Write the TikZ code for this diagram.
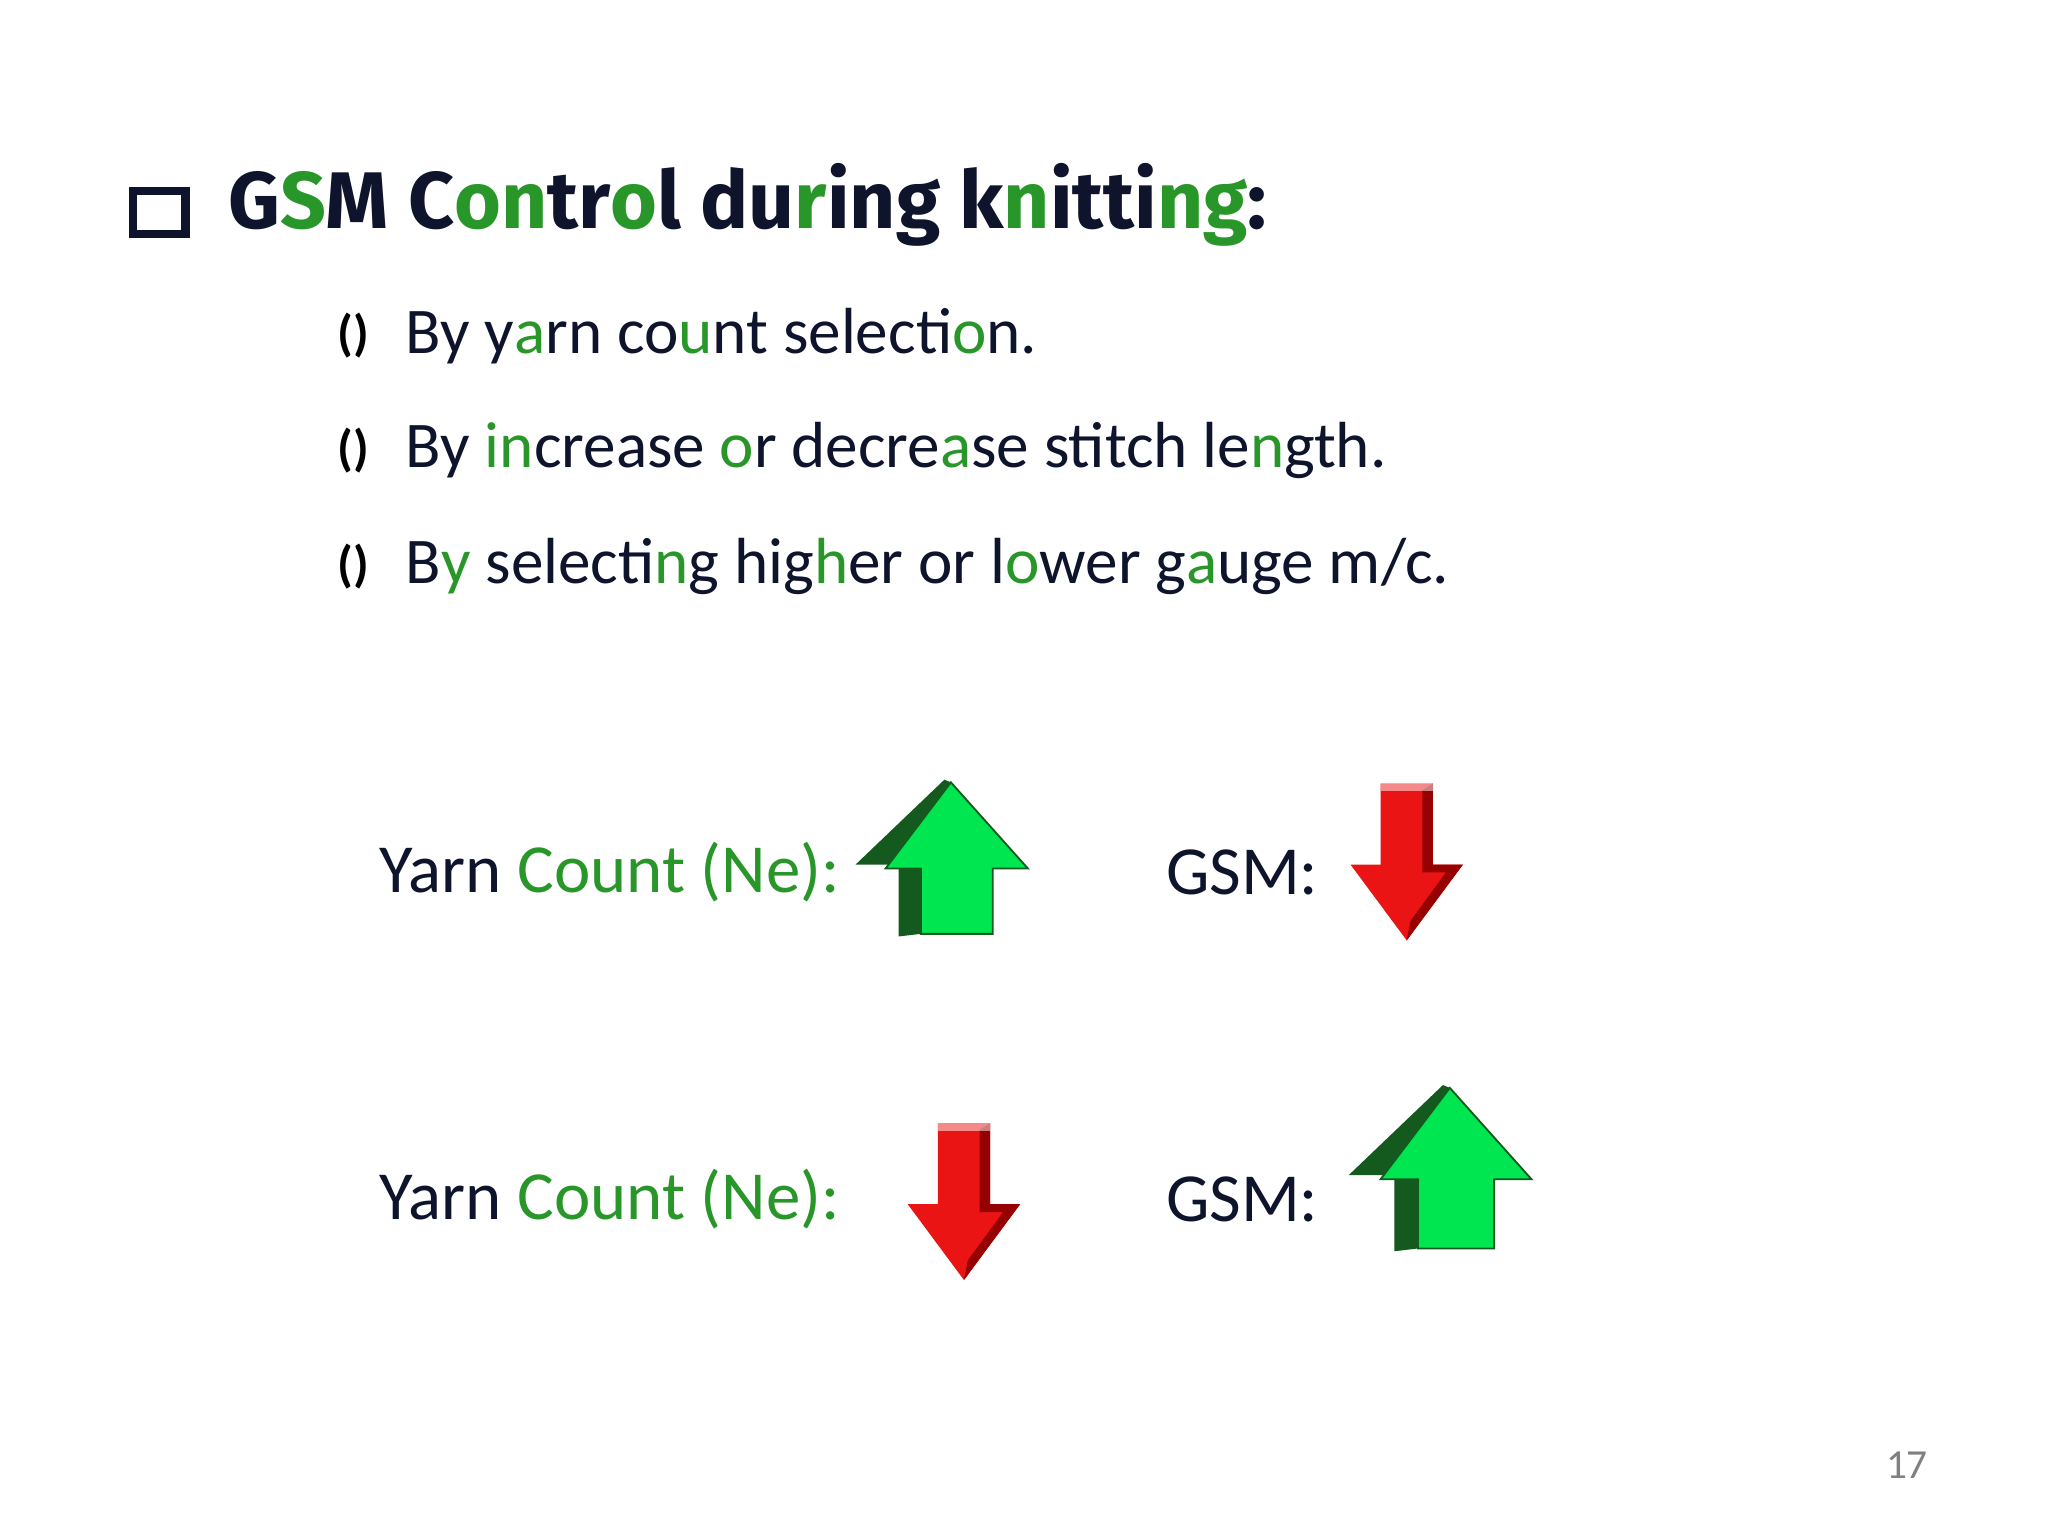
\documentclass[tikz,border=0pt]{standalone}
\usepackage{fontspec}
\setmainfont{Carlito}
\newfontfamily\ttl{Fira Sans}
\definecolor{gr}{RGB}{40,150,40}
\definecolor{dk}{RGB}{15,20,45}
\definecolor{arG}{RGB}{0,230,80}
\definecolor{arGd}{RGB}{20,90,30}
\definecolor{arR}{RGB}{235,20,20}
\definecolor{arRd}{RGB}{150,0,0}
\newcommand{\G}[1]{\textcolor{gr}{#1}}
\tikzset{lbl/.style={anchor=west,text=dk,inner sep=0pt,font=\fontsize{15}{18}\selectfont},
 bul/.style={anchor=west,text=dk,inner sep=0pt,font=\fontsize{14.2}{17}\selectfont},
 bsym/.style={anchor=west,inner sep=0pt,font=\bfseries\fontsize{11}{12}\selectfont}}
\newcommand{\uparr}[3]{% x center, y bottom, scale
 \begin{scope}[shift={(#1,#2)},scale=#3]
 \fill[arGd] (-0.4,0) -- (-0.23,0.02) -- (-0.23,0.52) -- (-0.5,0.52) -- (0,1.18) -- (-0.05,1.2) -- (-0.73,0.55) -- (-0.4,0.55) -- cycle;
 \fill[arG,draw=arGd,line width=0.4pt] (-0.23,0.02) -- (0.32,0.02) -- (0.32,0.52) -- (0.59,0.52) -- (0,1.18) -- (-0.5,0.52) -- (-0.23,0.52) -- cycle;
 \end{scope}}
\newcommand{\downarr}[3]{% x center, y top
 \begin{scope}[shift={(#1,#2)},scale=#3]
 \fill[arR] (-0.2,0) -- (0.2,0) -- (0.2,-0.62) -- (0.43,-0.62) -- (0,-1.2) -- (-0.43,-0.62) -- (-0.2,-0.62) -- cycle;
 \fill[arRd] (0.12,-0.05) -- (0.2,0) -- (0.2,-0.62) -- (0.43,-0.62) -- (0,-1.2) -- (0.03,-1.05) -- (0.3,-0.68) -- (0.12,-0.68) -- cycle;
 \fill[white,opacity=0.5] (-0.2,0) -- (0.2,0) -- (0.2,-0.06) -- (-0.2,-0.06) -- cycle;
 \end{scope}}
\begin{document}
\begin{tikzpicture}
\useasboundingbox (0,0) rectangle (15.68,11.76);
\fill[white] (0,0) rectangle (15.68,11.76);
\draw[dk,line width=1.8pt] (1.02,9.97) rectangle (1.42,10.3);
\node[anchor=west,inner sep=0pt,text=dk,font=\ttl\bfseries\fontsize{17.5}{20}\selectfont] (title) at (1.74,10.19)
 {G\G{S}M C\G{on}tr\G{o}l du\G{r}ing k\G{n}itti\G{ng}:};
\node[bsym] (b1) at (2.58,9.19) {()};
\node[bsym] (b2) at (2.58,8.31) {()};
\node[bsym] (b3) at (2.58,7.42) {()};
\node[bul] (l1) at (3.1,9.19) {By y\G{a}rn co\G{u}nt selecti\G{o}n.};
\node[bul] (l2) at (3.1,8.31) {By \G{in}crease \G{o}r decre\G{a}se stitch le\G{n}gth.};
\node[bul] (l3) at (3.1,7.42) {B\G{y} selecti\G{n}g hig\G{h}er or l\G{o}wer g\G{a}uge m/c.};
\node[lbl] (y1) at (2.9,5.08) {Yarn \G{Count (Ne):}};
\node[lbl] (g1) at (8.92,5.08) {GSM:};
\node[lbl] (y2) at (2.9,2.58) {Yarn \G{Count (Ne):}};
\node[lbl] (g2) at (8.92,2.58) {GSM:};
\uparr{7.28}{4.59}{1.0}
\downarr{10.77}{5.76}{1.0}
\downarr{7.38}{3.16}{1.0}
\uparr{11.1}{2.18}{1.06}
\node[text=gray,font=\fontsize{9}{10}\selectfont] (pn) at (14.6,0.54) {17};
\end{tikzpicture}
\end{document}
